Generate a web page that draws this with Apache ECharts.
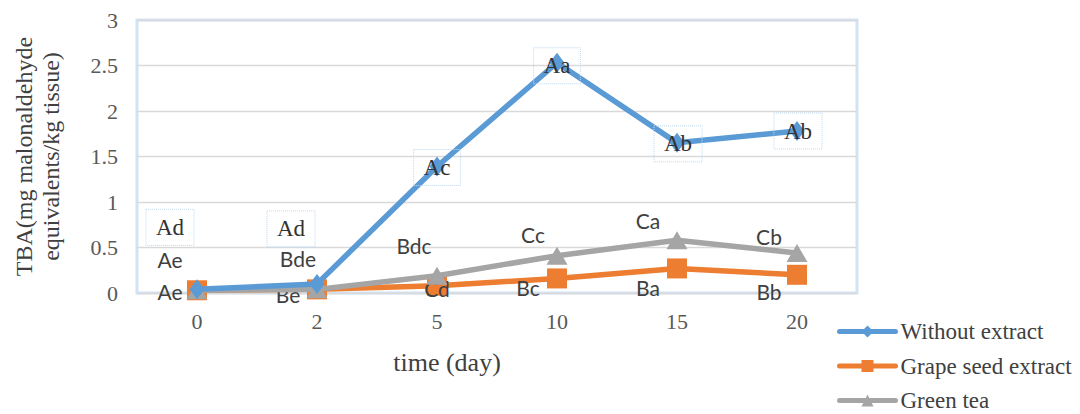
<!DOCTYPE html>
<html>
<head>
<meta charset="utf-8">
<script src="https://cdn.jsdelivr.net/npm/echarts@6/dist/echarts.min.js"></script>
<style>html,body{margin:0;padding:0;background:#fff}#c{width:1080px;height:414px}</style>
</head>
<body>
<div id="c"></div>
<script>
const categories = ['0', '2', '5', '10', '15', '20'];
const withoutExtract = [0.04, 0.10, 1.39, 2.53, 1.65, 1.78];
const grapeSeed = [0.03, 0.04, 0.08, 0.16, 0.27, 0.20];
const greenTea = [0.03, 0.04, 0.19, 0.41, 0.58, 0.44];
const withoutLetters = ['Ad', 'Ad', 'Ac', 'Aa', 'Ab', 'Ab'];
const grapeLetters = ['Ae', 'Be', 'Cd', 'Bc', 'Ba', 'Bb'];
const teaLetters = ['Ae', 'Bde', 'Bdc', 'Cc', 'Ca', 'Cb'];
const seriesNames = ['Without extract', 'Grape seed extract', 'Green tea'];
const yTicks = [0, 0.5, 1, 1.5, 2, 2.5, 3];

// label placement (layout, not data)
const withoutOffsets = [[-27, -62], [-26, -55], [0, 1], [0, 3], [1, 1], [1, 0]];
const grapeOffsets = [[-27, 1], [-29, 5], [0, 3], [-29, 9], [-29, 19], [-28, 17]];
const teaOffsets = [[-27, -31], [-19, -31], [-23, -30], [-24, -21], [-29, -20], [-28, -16]];
const legendTops = [320, 354.5, 389];

const serif = '"Liberation Serif", "Times New Roman", serif';
const sans = 'Lato, "Open Sans", sans-serif';

function build(values, letters, offsets, labelStyle) {
  return values.map((v, i) => ({
    value: v,
    label: Object.assign({ show: true, position: 'inside', formatter: letters[i], offset: offsets[i] }, labelStyle)
  }));
}

const legends = seriesNames.map((n, i) => ({
  orient: 'vertical', left: 837, top: legendTops[i], padding: 0,
  itemWidth: 56, itemHeight: 15,
  lineStyle: { width: 5, cap: 'round' },
  textStyle: { fontFamily: serif, fontSize: 23, color: '#404040' },
  data: [n]
}));

const chart = echarts.init(document.getElementById('c'), null, { renderer: 'svg' });
chart.setOption({
  animation: false,
  backgroundColor: '#ffffff',
  grid: {
    left: 137, right: 223, top: 20, bottom: 121,
    outerBoundsMode: 'none', containLabel: false,
    show: true, borderColor: '#d2e3f3', borderWidth: 3, backgroundColor: 'transparent'
  },
  legend: legends,
  xAxis: {
    type: 'category', data: categories, boundaryGap: true,
    axisLine: { show: false }, axisTick: { show: false },
    axisLabel: { fontFamily: serif, fontSize: 22, color: '#595959', margin: 17 },
    name: 'time (day)', nameLocation: 'middle', nameGap: 56,
    nameTextStyle: { fontFamily: serif, fontSize: 26, color: '#404040', padding: [0, 100, 0, 0] }
  },
  yAxis: {
    type: 'value', min: yTicks[0], max: yTicks[yTicks.length - 1], interval: 0.5,
    axisLine: { show: false }, axisTick: { show: false },
    axisLabel: { fontFamily: serif, fontSize: 22, color: '#595959', margin: 19 },
    splitLine: { lineStyle: { color: '#d9d9d9', width: 1.3 } },
    name: 'TBA(mg malonaldehyde\nequivalents/kg tissue)', nameLocation: 'middle', nameGap: 73, nameRotate: 90,
    nameTextStyle: { fontFamily: serif, fontSize: 24, color: '#404040', lineHeight: 27, align: 'center' }
  },
  series: [
    {
      name: seriesNames[0], type: 'line', z: 3,
      symbol: 'diamond', symbolSize: [15, 20],
      lineStyle: { color: '#5b9bd5', width: 5.5 },
      itemStyle: { color: '#5b9bd5' },
      data: build(withoutExtract, withoutLetters, withoutOffsets, {
        fontFamily: serif, fontSize: 23, color: '#333333',
        borderType: 'dotted', borderColor: '#bdd7ee', borderWidth: 1, padding: [7, 10, 6, 10]
      })
    },
    {
      name: seriesNames[1], type: 'line', z: 2,
      symbol: 'rect', symbolSize: 20,
      lineStyle: { color: '#ed7d31', width: 5.5 },
      itemStyle: { color: '#ed7d31' },
      data: build(grapeSeed, grapeLetters, grapeOffsets, { fontFamily: sans, fontSize: 21, color: '#404040' })
    },
    {
      name: seriesNames[2], type: 'line', z: 2.5,
      symbol: 'triangle', symbolSize: [21, 18],
      lineStyle: { color: '#a5a5a5', width: 5.5 },
      itemStyle: { color: '#a5a5a5' },
      data: build(greenTea, teaLetters, teaOffsets, { fontFamily: sans, fontSize: 21, color: '#404040' })
    }
  ]
});
</script>
</body>
</html>
